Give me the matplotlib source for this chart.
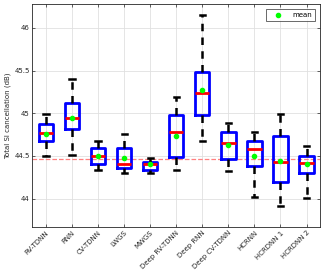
import matplotlib
matplotlib.use("Agg")
import matplotlib.pyplot as plt
from matplotlib.lines import Line2D

categories = ["RV-TDNN", "RNN", "CV-TDNN", "LWGS", "MWGS", "Deep RV-TDNN",
              "Deep RNN", "Deep CV-TDNN", "HCRNN", "HCRDNN 1", "HCRDNN 2"]
whisker_low = [44.50, 44.51, 44.34, 44.30, 44.295, 44.33, 44.68, 44.32, 44.02, 43.91, 44.01]
q1 = [44.67, 44.81, 44.41, 44.36, 44.335, 44.49, 44.985, 44.47, 44.385, 44.19, 44.305]
median = [44.77, 44.94, 44.50, 44.40, 44.40, 44.78, 45.235, 44.65, 44.585, 44.43, 44.415]
q3 = [44.875, 45.12, 44.595, 44.595, 44.435, 44.975, 45.485, 44.78, 44.68, 44.73, 44.505]
whisker_high = [44.99, 45.395, 44.68, 44.76, 44.48, 45.185, 46.145, 44.885, 44.78, 44.99, 44.615]
means = [44.755, 44.945, 44.50, 44.48, 44.40, 44.73, 45.27, 44.63, 44.50, 44.44, 44.405]
reference_level = 44.46

fig = plt.figure(figsize=(3.24, 2.76), dpi=100)
ax = fig.add_axes([0.10, 0.178, 0.888, 0.808])

stats = []
for i, c in enumerate(categories):
    stats.append(dict(label=c, whislo=whisker_low[i], q1=q1[i], med=median[i],
                      q3=q3[i], whishi=whisker_high[i], mean=means[i], fliers=[]))

positions = list(range(1, len(categories) + 1))
ax.bxp(stats, positions=positions, widths=0.55, showmeans=False, showfliers=False,
       boxprops=dict(color="#0000ff", linewidth=2.0),
       medianprops=dict(color="#ff0000", linewidth=2.0),
       whiskerprops=dict(color="black", linewidth=1.8, linestyle=(0, (3, 2.5))),
       capprops=dict(color="black", linewidth=1.8), capwidths=0.2)

ax.plot(positions, means, linestyle="none", marker="o", markersize=3,
        color="#00ff00", zorder=5)

ax.axhline(reference_level, color="#ff8080", linestyle="--", linewidth=0.9, zorder=1)

ax.set_xlim(0.48, 11.52)
ax.set_ylim(43.67, 46.28)
ax.set_yticks([44, 44.5, 45, 45.5, 46])
ax.set_yticklabels(["44", "44.5", "45", "45.5", "46"])
ax.set_xticks(positions)
ax.set_xticklabels(categories, rotation=45, ha="right", rotation_mode="anchor")
ax.tick_params(axis="both", labelsize=5, colors="#262626", direction="in",
               length=2, width=0.5, top=True, right=True, pad=2)
ax.grid(True, color="#e0e0e0", linewidth=0.6)
ax.set_axisbelow(True)
for s in ax.spines.values():
    s.set_color("#262626")
    s.set_linewidth(0.6)
ax.set_ylabel("Total SI cancellation (dB)", fontsize=5, color="#262626", labelpad=2)

handle = Line2D([], [], linestyle="none", marker="o", markersize=3, color="#00ff00")
leg = ax.legend([handle], ["mean"], loc="upper right", fontsize=5, frameon=True,
                fancybox=False, edgecolor="#262626", handlelength=2.5,
                borderaxespad=0.8)
leg.get_frame().set_linewidth(0.6)

fig.savefig("out.png", dpi=100)
